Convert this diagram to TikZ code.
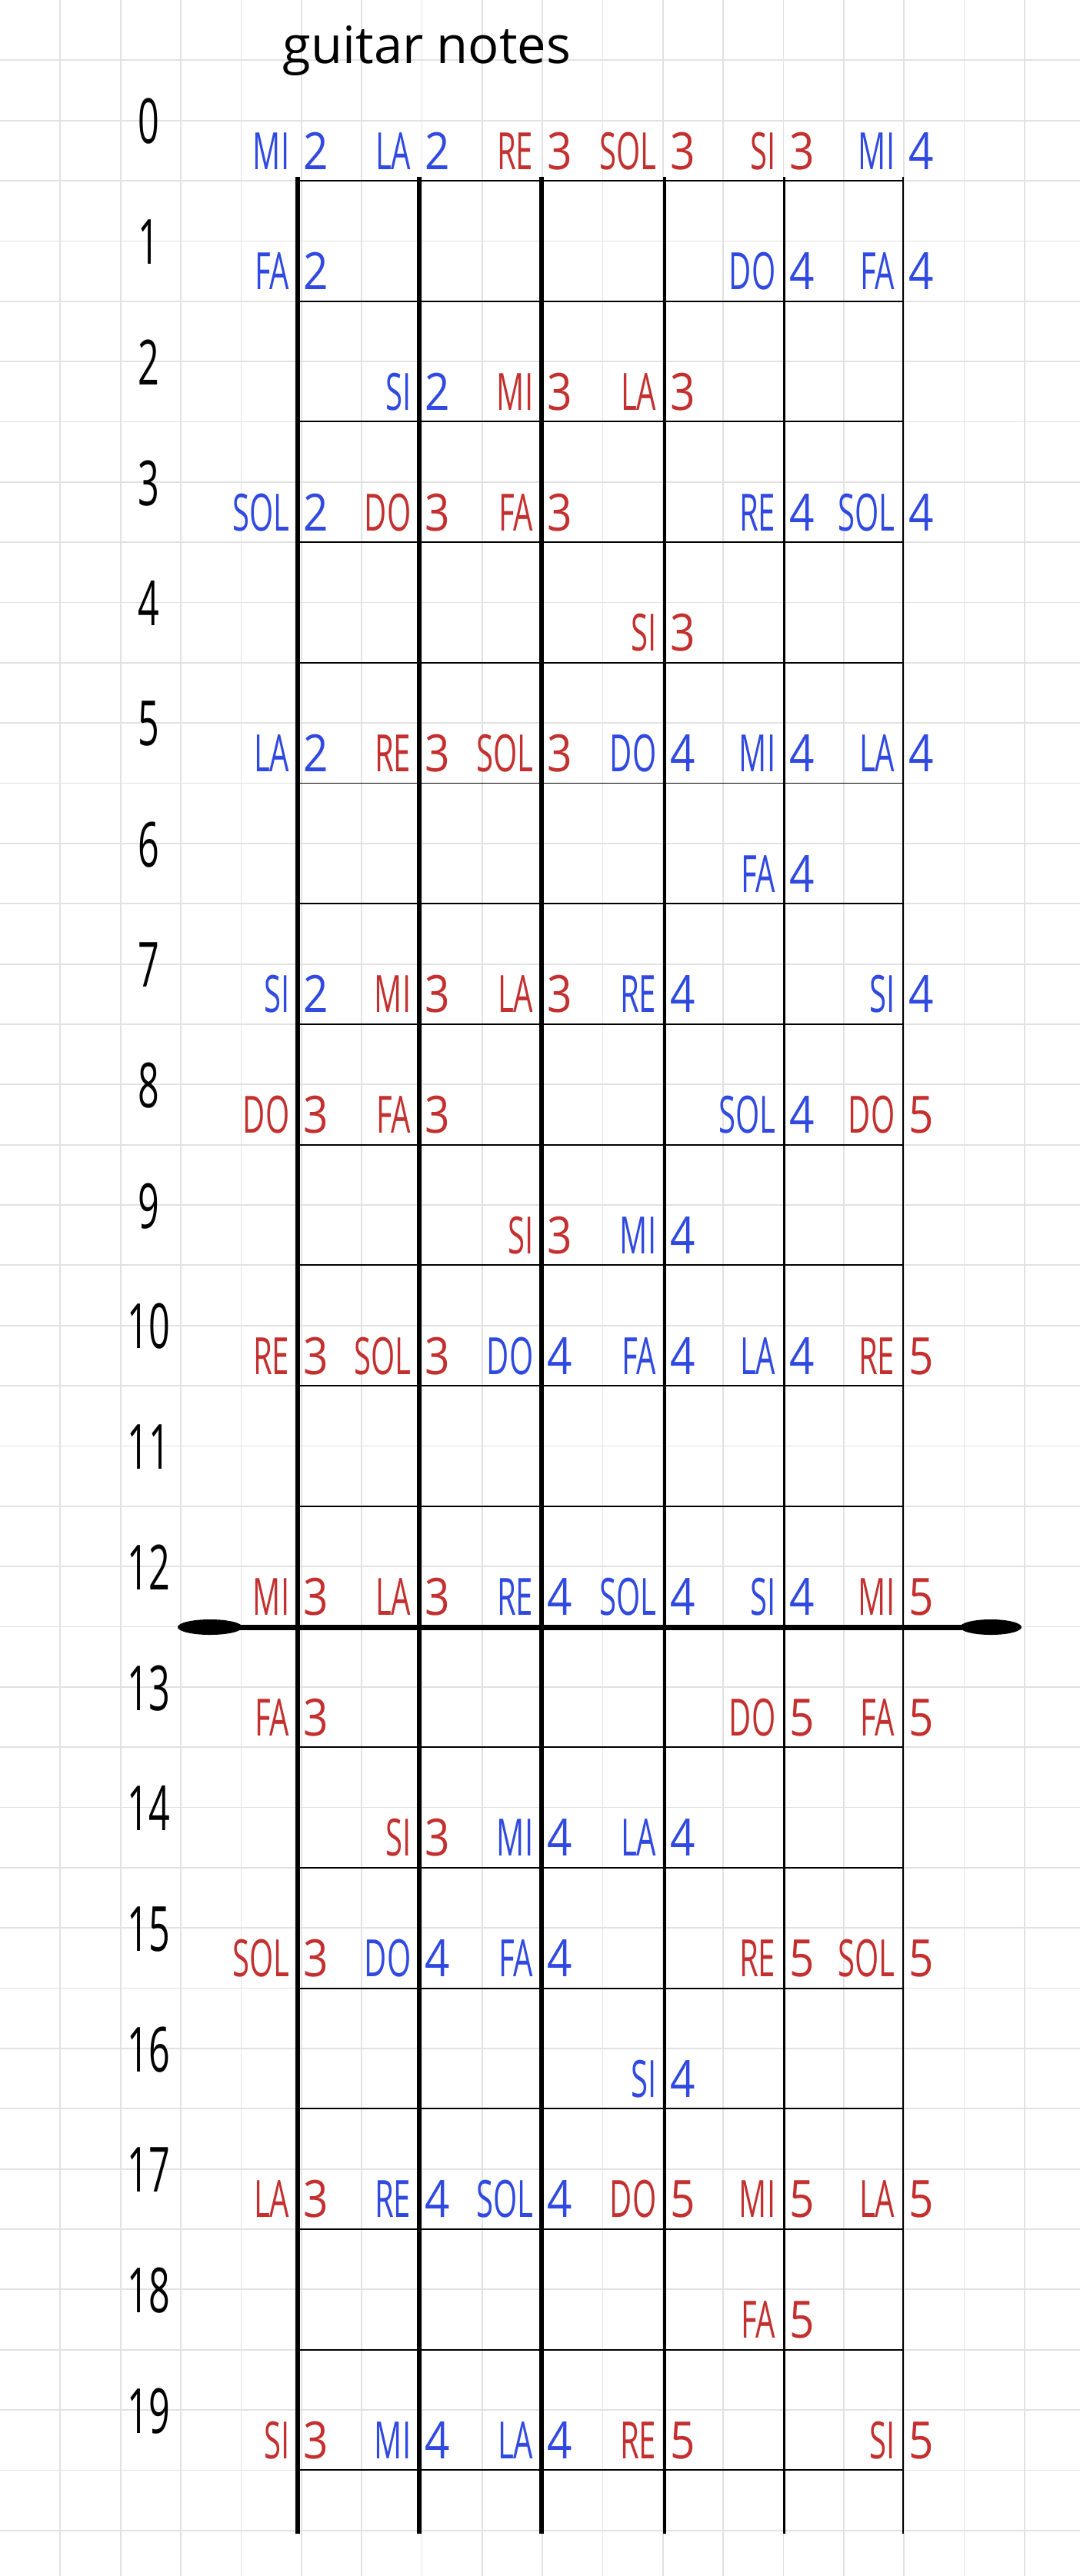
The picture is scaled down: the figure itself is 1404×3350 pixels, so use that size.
\documentclass[tikz,border=0pt]{standalone}
\usepackage{fontspec}
\setmainfont{Open Sans}
\newfontfamily\handfont[FakeStretch=0.6]{Open Sans}
\newfontfamily\digitfont[FakeStretch=0.85]{Open Sans}
\usepackage{tikz}
\usetikzlibrary{positioning}
\definecolor{NoteBlue}{HTML}{3049E0}
\definecolor{NoteRed} {HTML}{C3302F}
\definecolor{Paper}   {HTML}{E2E2E2}
% octave colours
\colorlet{oct2}{NoteBlue}
\colorlet{oct3}{NoteRed}
\colorlet{oct4}{NoteBlue}
\colorlet{oct5}{NoteRed}

\begin{document}
\begin{tikzpicture}[x=0.01cm, y=-0.01cm,
    notename/.style={anchor=base east, inner sep=0pt,
                     font={\handfont\fontsize{19}{19}\selectfont}},
    octave/.style={anchor=base west, inner sep=0pt,
                   font={\digitfont\fontsize{19}{19}\selectfont}},
    fretnum/.style={inner sep=0pt, font={\handfont\fontsize{23}{23}\selectfont}},
    fretline/.style={black, line width=0.55pt},
    gridline/.style={Paper, line width=0.5pt}]
  \fill[white] (0,0) rectangle (1404,3350);
  \useasboundingbox (0,0) rectangle (1404,3350);
  % paper grid
  \foreach \i in {1,...,17}
    \draw[gridline] ({\i*78.35},0) -- ({\i*78.35},3350);
  \foreach \j in {1,...,42}
    \draw[gridline] (0,{\j*78.35}) -- (1404,{\j*78.35});

  % title
  \node[inner sep=0pt, anchor=base, font=\fontsize{19}{19}\selectfont]
    (title) at (555,82) {guitar notes};

  % strings
  \foreach \s/\x/\w in {1/387/1.55, 2/545/1.55, 3/704/1.5,
                        4/864/1.0, 5/1019/0.85, 6/1174/0.6} {
    \coordinate (s\s top) at (\x,230);
    \coordinate (s\s bot) at (\x,3295);
  }
  % frets
  \foreach \f in {0,...,19} {
    \coordinate (f\f l) at (387,{235+156.7*\f});
    \coordinate (f\f r) at (1174,{235+156.7*\f});
    \node[fretnum] (num\f) at (193,{158+156.7*\f}) {\f};
    \ifnum\f=12\else
      \draw[fretline] (f\f l) -- (f\f r);
    \fi
  }
  % octave marker on fret 12
  \coordinate (oct l) at (273,2116);
  \coordinate (oct r) at (1288,2116);
  \draw[black, line width=2pt] (oct l) -- (oct r);
  \fill[black] (oct l) ellipse [x radius=0.42cm, y radius=0.1cm];
  \fill[black] (oct r) ellipse [x radius=0.40cm, y radius=0.1cm];

  \foreach \s/\w in {1/1.55, 2/1.55, 3/1.5, 4/1.0, 5/0.85, 6/0.6}
    \draw[black, line width=\w pt] (s\s top) -- (s\s bot);

  % notes: string/name/octave on each fret
  \foreach \f/\row in {
      0/{1/MI/2, 2/LA/2, 3/RE/3, 4/SOL/3, 5/SI/3, 6/MI/4},
      1/{1/FA/2, 5/DO/4, 6/FA/4},
      2/{2/SI/2, 3/MI/3, 4/LA/3},
      3/{1/SOL/2, 2/DO/3, 3/FA/3, 5/RE/4, 6/SOL/4},
      4/{4/SI/3},
      5/{1/LA/2, 2/RE/3, 3/SOL/3, 4/DO/4, 5/MI/4, 6/LA/4},
      6/{5/FA/4},
      7/{1/SI/2, 2/MI/3, 3/LA/3, 4/RE/4, 6/SI/4},
      8/{1/DO/3, 2/FA/3, 5/SOL/4, 6/DO/5},
      9/{3/SI/3, 4/MI/4},
      10/{1/RE/3, 2/SOL/3, 3/DO/4, 4/FA/4, 5/LA/4, 6/RE/5},
      12/{1/MI/3, 2/LA/3, 3/RE/4, 4/SOL/4, 5/SI/4, 6/MI/5},
      13/{1/FA/3, 5/DO/5, 6/FA/5},
      14/{2/SI/3, 3/MI/4, 4/LA/4},
      15/{1/SOL/3, 2/DO/4, 3/FA/4, 5/RE/5, 6/SOL/5},
      16/{4/SI/4},
      17/{1/LA/3, 2/RE/4, 3/SOL/4, 4/DO/5, 5/MI/5, 6/LA/5},
      18/{5/FA/5},
      19/{1/SI/3, 2/MI/4, 3/LA/4, 4/RE/5, 6/SI/5}} {
    \foreach \s/\n/\o in \row {
      \node[notename, text=oct\o, xshift=-0.1cm, yshift=0.15cm]
        (n\f-\s) at (s\s top |- f\f l) {\n};
      \node[octave, text=oct\o, xshift=0.07cm, yshift=0.15cm]
        (o\f-\s) at (s\s top |- f\f l) {\o};
    }
  }
\end{tikzpicture}
\end{document}
